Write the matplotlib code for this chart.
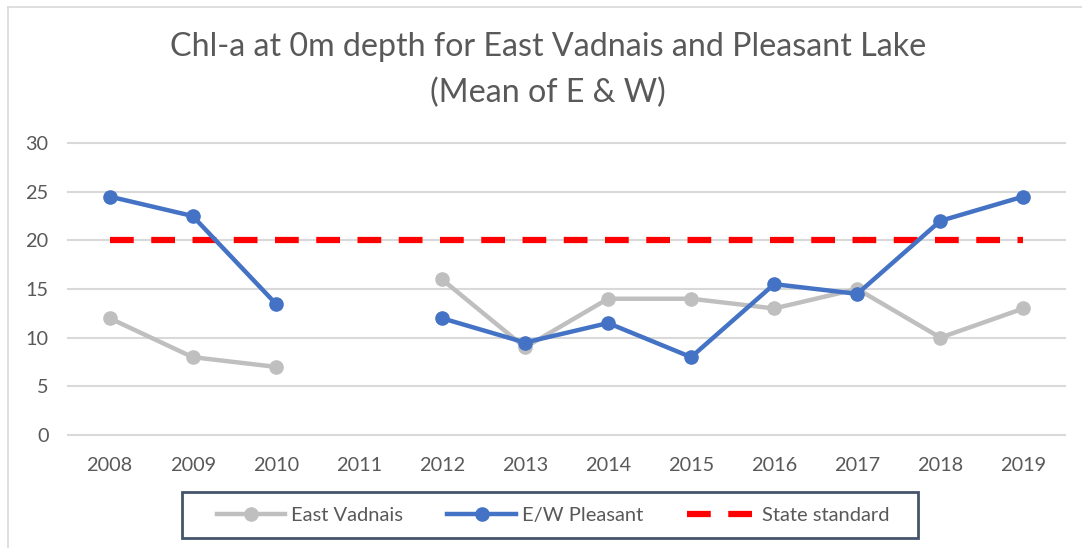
import matplotlib
matplotlib.use("Agg")
import matplotlib.pyplot as plt
from matplotlib.lines import Line2D
from matplotlib.patches import Rectangle
import numpy as np

plt.rcParams['font.family'] = ['Lato', 'DejaVu Sans']

years = ["2008", "2009", "2010", "2011", "2012", "2013", "2014", "2015", "2016", "2017", "2018", "2019"]
east_vadnais = [12, 8, 7, np.nan, 16, 9, 14, 14, 13, 15, 10, 13]
ew_pleasant = [24.5, 22.5, 13.5, np.nan, 12, 9.5, 11.5, 8, 15.5, 14.5, 22, 24.5]
state_standard = [20] * 12
y_ticks = [0, 5, 10, 15, 20, 25, 30]

W, H = 1082, 548
fig = plt.figure(figsize=(W / 100, H / 100), dpi=100)
ax = fig.add_axes([68 / W, (H - 435) / H, 997 / W, 292 / H])

text_color = "#595959"
x = np.arange(len(years))

for yt in y_ticks:
    ax.axhline(yt, color="#D9D9D9", lw=1.5, zorder=0, clip_on=False)

ax.plot(x, east_vadnais, color="#BFBFBF", lw=3.2, marker="o", ms=9.5,
        label="East Vadnais", zorder=3)
ax.plot(x, ew_pleasant, color="#4472C4", lw=3.2, marker="o", ms=9.5,
        label="E/W Pleasant", zorder=4)
ax.plot(x, state_standard, color="#FF0000", lw=4.5, linestyle=(0, (3.8, 2.8)),
        label="State standard", zorder=2)

ax.set_xlim(-0.5, len(years) - 0.5)
ax.set_ylim(0, 30)
ax.set_xticks(x)
ax.set_xticklabels(years)
ax.set_yticks(y_ticks)
ax.tick_params(axis="both", length=0, labelsize=14.3, colors=text_color)
ax.tick_params(axis="x", pad=16)
ax.tick_params(axis="y", pad=14)
for s in ax.spines.values():
    s.set_visible(False)

fig.text(548 / W, 1 - 47 / H, "Chl-a at 0m depth for East Vadnais and Pleasant Lake",
         ha="center", va="center", fontsize=23.2, color=text_color)
fig.text(548 / W, 1 - 93 / H, "(Mean of E & W)",
         ha="center", va="center", fontsize=23.2, color=text_color)

leg = fig.legend(loc="center", bbox_to_anchor=(553 / W, 1 - 515 / H), ncol=3,
                 fontsize=14.5, frameon=False,
                 handlelength=3.4, handletextpad=0.3, columnspacing=2.2,
                 borderpad=0.45, borderaxespad=0)
for t in leg.get_texts():
    t.set_color(text_color)

fig.add_artist(Rectangle((182 / W, 1 - 538 / H), 736 / W, 46 / H,
                         transform=fig.transFigure, fill=False,
                         edgecolor="#44546A", lw=2))

fig.add_artist(Line2D([8 / W, 8 / W], [0, 1 - 7 / H], color="#D9D9D9", lw=1.2))
fig.add_artist(Line2D([8 / W, 1], [1 - 7 / H, 1 - 7 / H], color="#D9D9D9", lw=1.2))

fig.savefig("out.png", dpi=100)
